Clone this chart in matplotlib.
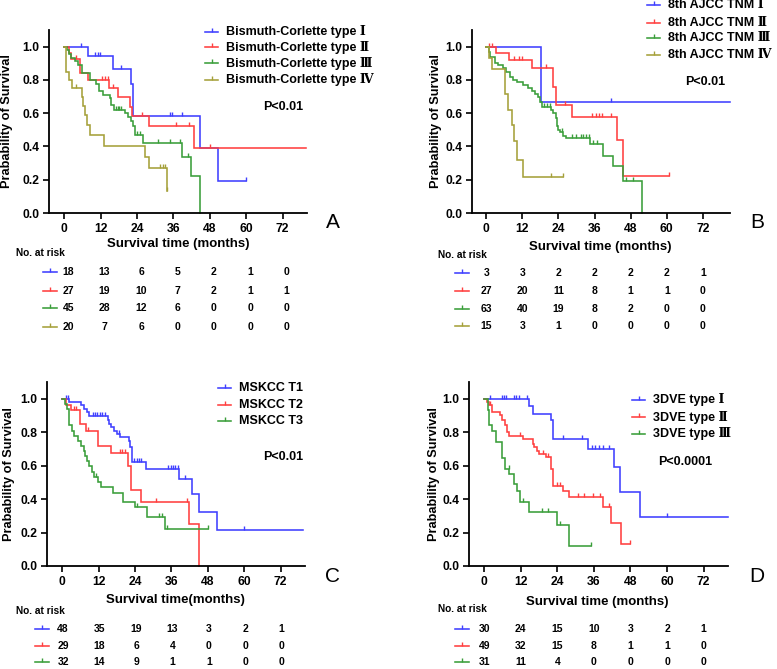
import numpy as np
import matplotlib
matplotlib.use("Agg")
import matplotlib.pyplot as plt
from matplotlib.lines import Line2D

plt.rcParams['font.family'] = ['Liberation Sans', 'Noto Sans CJK SC', 'DejaVu Sans']
LEG_FAMILY = ['Liberation Sans', 'DejaVu Serif', 'Noto Sans CJK SC']

W, H = 777, 669
BLUE, RED, GREEN, OLIVE = '#3f3fff', '#ff3f3f', '#3a9e3a', '#a5a03a'

# ---------------- data: panel A (Bismuth-Corlette) ----------------
A_labels = ['Bismuth-Corlette type Ⅰ', 'Bismuth-Corlette type Ⅱ',
            'Bismuth-Corlette type Ⅲ', 'Bismuth-Corlette type Ⅳ']
A1_t = [7.9, 16.1, 22.1, 22.8, 44.9, 50.8]
A1_s = [0.944, 0.864, 0.778, 0.583, 0.389, 0.194]
A1_c = [5.7, 10.0, 11.0, 11.8, 18.8, 35.0, 35.6, 38.9, 60.0]
A1_end = 60.0
A2_t = [1.6, 2.4, 5.2, 7.7, 14.8, 17.8, 21.6, 22.5, 27.8, 42.7]
A2_s = [0.963, 0.926, 0.844, 0.800, 0.753, 0.700, 0.640, 0.583, 0.520, 0.390]
A2_c = [4.0, 12.3, 13.4, 14.5, 16.1, 25.8, 36.9, 41.0, 47.9]
A2_end = 79.7
A3_t = [0.8, 1.6, 2.4, 3.5, 4.5, 6.0, 8.5, 10.6, 11.5, 12.8, 15.0, 15.5, 16.5,
        20.0, 21.0, 22.1, 22.7, 23.2, 26.0, 38.9, 41.9, 44.9]
A3_s = [0.978, 0.956, 0.933, 0.911, 0.889, 0.844, 0.800, 0.778, 0.733, 0.711, 0.689,
        0.650, 0.622, 0.600, 0.578, 0.556, 0.520, 0.470, 0.420, 0.336, 0.222, 0.0]
A3_c = [17.0, 17.6, 18.2, 18.8, 24.0, 25.0, 30.9, 34.7, 38.0, 40.8]
A3_end = 44.9
A4_t = [0.5, 0.6, 0.7, 1.5, 2.6, 5.9, 6.3, 7.0, 7.6, 8.4, 13.1, 26.7, 27.8, 34.0]
A4_s = [0.95, 0.90, 0.85, 0.80, 0.75, 0.70, 0.644, 0.589, 0.53, 0.47, 0.404,
        0.337, 0.27, 0.135]
A4_c = [4.0, 31.7, 32.5, 33.3, 34.0]
A4_end = 34.0
A_risk = [[18, 13, 6, 5, 2, 1, 0], [27, 19, 10, 7, 2, 1, 1],
          [45, 28, 12, 6, 0, 0, 0], [20, 7, 6, 0, 0, 0, 0]]

# ---------------- data: panel B (8th AJCC TNM) ----------------
B_labels = ['8th AJCC TNM Ⅰ', '8th AJCC TNM Ⅱ', '8th AJCC TNM Ⅲ', '8th AJCC TNM Ⅳ']
B1_t = [18.2]
B1_s = [0.667]
B1_c = [41.4]
B1_end = 81.0
B2_t = [3.3, 7.7, 15.1, 22.1, 23.2, 28.4, 43.6, 45.5]
B2_s = [0.96, 0.92, 0.87, 0.76, 0.65, 0.58, 0.44, 0.22]
B2_c = [1.1, 1.9, 9.3, 11.0, 12.0, 19.9, 26.2, 35.3, 36.4, 37.5, 38.6, 41.4, 60.7]
B2_end = 60.7
B3_t = [0.8, 1.3, 3.0, 4.1, 5.7, 6.6, 7.9, 9.0, 10.2, 12.1, 14.0, 15.1, 16.2, 17.3,
        17.9, 18.5, 21.7, 22.3, 23.1, 23.4, 23.9, 24.5, 25.6, 26.5, 34.4, 38.9,
        42.0, 45.3, 51.8]
B3_s = [0.968, 0.936, 0.904, 0.888, 0.870, 0.850, 0.816, 0.800, 0.785, 0.768, 0.750,
        0.734, 0.716, 0.700, 0.670, 0.640, 0.620, 0.600, 0.570, 0.520, 0.500, 0.484,
        0.460, 0.450, 0.415, 0.345, 0.280, 0.190, 0.0]
B3_c = [19.2, 20.3, 21.2, 25.1, 28.4, 30.0, 31.4, 32.2, 33.3, 34.2, 35.6, 36.7,
        46.4, 48.8]
B3_end = 51.8
B4_t = [1.0, 1.9, 6.3, 7.4, 8.5, 9.3, 10.2, 12.1]
B4_s = [0.933, 0.867, 0.714, 0.62, 0.53, 0.43, 0.32, 0.215]
B4_c = [21.4, 25.4]
B4_end = 25.4
B_risk = [[3, 3, 2, 2, 2, 2, 1], [27, 20, 11, 8, 1, 1, 0],
          [63, 40, 19, 8, 2, 0, 0], [15, 3, 1, 0, 0, 0, 0]]

# ---------------- data: panel C (MSKCC) ----------------
C_labels = ['MSKCC T1', 'MSKCC T2', 'MSKCC T3']
C1_t = [2.4, 6.2, 7.3, 8.2, 8.9, 15.0, 15.5, 16.0, 17.1, 18.2, 19.1, 22.0, 22.4,
        23.0, 27.7, 38.6, 42.8, 45.0, 51.0]
C1_s = [0.98, 0.96, 0.94, 0.92, 0.895, 0.87, 0.85, 0.83, 0.81, 0.79, 0.77, 0.75,
        0.71, 0.62, 0.58, 0.52, 0.43, 0.32, 0.215]
C1_c = [1.1, 1.9, 10.0, 10.8, 11.6, 12.4, 13.2, 14.0, 18.8, 23.8, 24.5, 25.2, 26.0,
        35.0, 35.7, 36.4, 37.2, 38.0, 40.6, 60.0]
C1_end = 79.5
C2_t = [1.3, 2.9, 6.0, 7.9, 11.9, 16.0, 21.8, 22.8, 25.9, 41.7, 45.2]
C2_s = [0.965, 0.93, 0.85, 0.81, 0.72, 0.675, 0.60, 0.455, 0.38, 0.25, 0.0]
C2_c = [3.8, 4.6, 8.6, 19.1, 19.8, 20.6, 31.0, 41.0]
C2_end = 45.2
C3_t = [1.0, 1.5, 2.1, 3.2, 3.8, 5.3, 6.2, 7.1, 7.6, 8.2, 8.9, 9.7, 10.6, 11.7, 12.8,
        16.9, 19.9, 23.9, 28.0, 34.0]
C3_s = [0.97, 0.94, 0.84, 0.81, 0.78, 0.75, 0.72, 0.69, 0.66, 0.63, 0.60, 0.56, 0.53,
        0.50, 0.47, 0.434, 0.384, 0.354, 0.294, 0.22]
C3_c = [11.1, 24.8, 31.9, 33.0, 34.6, 48.0]
C3_end = 48.0
C_risk = [[48, 35, 19, 13, 3, 2, 1], [29, 18, 6, 4, 0, 0, 0], [32, 14, 9, 1, 1, 0, 0]]

# ---------------- data: panel D (3DVE) ----------------
D_labels = ['3DVE type Ⅰ', '3DVE type Ⅱ', '3DVE type Ⅲ']
D1_t = [14.8, 15.9, 21.9, 22.7, 34.0, 42.7, 44.6, 51.0]
D1_s = [0.958, 0.91, 0.87, 0.76, 0.70, 0.59, 0.44, 0.29]
D1_c = [1.9, 5.7, 6.5, 7.3, 9.7, 10.5, 11.3, 13.9, 26.0, 32.0, 35.3, 36.4, 37.5,
        39.1, 40.8, 60.0]
D1_end = 80.0
D2_t = [1.0, 1.6, 2.7, 5.2, 5.9, 6.8, 7.6, 8.2, 12.8, 15.9, 16.4, 17.2, 18.1, 20.3,
        21.9, 22.7, 25.8, 27.8, 38.9, 41.6, 44.8]
D2_s = [0.98, 0.96, 0.92, 0.90, 0.87, 0.84, 0.80, 0.78, 0.76, 0.73, 0.71, 0.69, 0.67,
        0.65, 0.58, 0.48, 0.45, 0.41, 0.35, 0.26, 0.13]
D2_c = [2.0, 11.7, 19.2, 20.8, 23.8, 24.9, 30.9, 32.9, 35.8, 38.0, 40.8, 47.9]
D2_end = 47.9
D3_t = [1.2, 1.4, 1.5, 2.6, 3.8, 5.7, 6.8, 8.2, 9.8, 10.6, 11.7, 14.8, 24.0, 27.8]
D3_s = [0.935, 0.87, 0.84, 0.81, 0.74, 0.645, 0.58, 0.55, 0.49, 0.45, 0.38, 0.325,
        0.245, 0.12]
D3_c = [8.1, 12.8, 18.8, 20.8, 24.9, 35.0]
D3_end = 35.0
D_risk = [[30, 24, 15, 10, 3, 2, 1], [49, 32, 15, 8, 1, 1, 0], [31, 11, 4, 0, 0, 0, 0]]

x_ticks = [0, 12, 24, 36, 48, 60, 72]
y_ticks = [0.0, 0.2, 0.4, 0.6, 0.8, 1.0]

fig = plt.figure(figsize=(W / 100, H / 100), dpi=100)

LW = 1.15
MS = 3.2


def fx(px):
    return px / W


def fy(py):
    return 1 - py / H


def km(ax, t, s, c, end, color):
    xs = [0.0] + list(t) + [end]
    ys = [1.0] + list(s) + [s[-1] if len(s) else 1.0]
    ax.step(xs, ys, where='post', color=color, lw=LW, solid_joinstyle='miter', clip_on=False)
    tt = np.array(t)
    ss = np.array([1.0] + list(s))
    cy = [ss[np.searchsorted(tt, ci, side='right')] for ci in c]
    ax.plot(c, cy, ls='none', marker=2, ms=MS, mew=1.0, color=color, clip_on=False)


def panel(box, xlim, curves, colors, labels, ylab_x, xlabel, xlabel_xy, letter, letter_xy,
          pval, pval_xy, leg_x, leg_rows, risk, risk_label_xy, risk_marker_x, risk_rows, risk_dx):
    l, t, r, b = box
    ax = fig.add_axes([fx(l), fy(b), fx(r - l), (b - t) / H])
    for (tt, ss, cc, ee), col in zip(curves, colors):
        km(ax, tt, ss, cc, ee, col)
    ax.set_xlim(*xlim)
    ax.set_ylim(0, 1.1)
    ax.set_xticks(x_ticks)
    ax.set_yticks(y_ticks)
    ax.set_yticklabels([f'{v:.1f}' for v in y_ticks])
    for sp in ['top', 'right']:
        ax.spines[sp].set_visible(False)
    for sp in ['left', 'bottom']:
        ax.spines[sp].set_linewidth(1.3)
    ax.tick_params(direction='out', length=4, width=1.2, labelsize=8.7, pad=3)
    for lab in ax.get_xticklabels() + ax.get_yticklabels():
        lab.set_fontweight('bold')
    ax.set_ylabel('Prabability of Survival', fontsize=9.2, fontweight='bold')
    ax.yaxis.set_label_coords(ylab_x, 0.5)
    fig.text(fx(xlabel_xy[0]), fy(xlabel_xy[1]), xlabel, fontsize=9.5, fontweight='bold',
             ha='center', va='center')
    fig.text(fx(letter_xy[0]), fy(letter_xy[1]), letter, fontsize=15, ha='center', va='center')
    fig.text(fx(pval_xy[0]), fy(pval_xy[1]), pval, fontsize=9, fontweight='bold',
             ha='left', va='center')
    # legend
    for lab, col, yy in zip(labels, colors, leg_rows):
        fig.add_artist(Line2D([fx(leg_x), fx(leg_x + 13)], [fy(yy), fy(yy)], color=col, lw=LW))
        fig.add_artist(Line2D([fx(leg_x + 6.5)], [fy(yy)], ls='none', marker=2, ms=MS,
                              mew=1.0, color=col))
        fig.text(fx(leg_x + 21), fy(yy), lab, fontsize=9, fontweight='bold',
                 ha='left', va='center', family=LEG_FAMILY)
    # risk table
    fig.text(fx(risk_label_xy[0]), fy(risk_label_xy[1]), 'No. at risk', fontsize=7.3,
             fontweight='bold', ha='left', va='center')
    for row, col, yy in zip(risk, colors, risk_rows):
        fig.add_artist(Line2D([fx(risk_marker_x - 7), fx(risk_marker_x + 7)], [fy(yy), fy(yy)],
                              color=col, lw=LW))
        fig.add_artist(Line2D([fx(risk_marker_x)], [fy(yy)], ls='none', marker=2, ms=MS,
                              mew=1.0, color=col))
        for xv, n in zip(x_ticks, row):
            px = ax.transData.transform((xv, 0))[0] / fig.dpi * 100
            fig.text(fx(px + risk_dx), fy(yy), str(n), fontsize=7.5, fontweight='bold',
                     ha='center', va='center')
    return ax


A_curves = [(A1_t, A1_s, A1_c, A1_end), (A2_t, A2_s, A2_c, A2_end),
            (A3_t, A3_s, A3_c, A3_end), (A4_t, A4_s, A4_c, A4_end)]
B_curves = [(B1_t, B1_s, B1_c, B1_end), (B2_t, B2_s, B2_c, B2_end),
            (B3_t, B3_s, B3_c, B3_end), (B4_t, B4_s, B4_c, B4_end)]
C_curves = [(C1_t, C1_s, C1_c, C1_end), (C2_t, C2_s, C2_c, C2_end),
            (C3_t, C3_s, C3_c, C3_end)]
D_curves = [(D1_t, D1_s, D1_c, D1_end), (D2_t, D2_s, D2_c, D2_end),
            (D3_t, D3_s, D3_c, D3_end)]

panel((49, 30, 307, 213), (-5, 80), A_curves, [BLUE, RED, GREEN, OLIVE], A_labels,
      -0.14, 'Survival time (months)', (178, 244), 'A', (333, 222),
      'P<0.01', (263, 107), 205, [32, 47, 63, 80],
      A_risk, (16, 253), 50, [272, 291, 308, 327], 4)
panel((472, 30, 730, 213), (-4.7, 81), B_curves, [BLUE, RED, GREEN, OLIVE], B_labels,
      -0.116, 'Survival time (months)', (600, 247), 'B', (757, 222),
      'P<0.01', (685, 82), 647, [5, 23, 38, 55],
      B_risk, (438, 255), 462, [273, 291, 309, 326], 0)
panel((47, 382, 305, 566), (-5, 80), C_curves, [BLUE, RED, GREEN], C_labels,
      -0.124, 'Survival time(months)', (175, 600), 'C', (332, 577),
      'P<0.01', (263, 457), 218, [388, 405, 421],
      C_risk, (16, 611), 42, [629, 646, 662], 1)
panel((469, 382, 728, 566), (-5, 80), D_curves, [BLUE, RED, GREEN], D_labels,
      -0.112, 'Survival time (months)', (597, 602), 'D', (757, 577),
      'P<0.0001', (658, 462), 632, [400, 417, 434],
      D_risk, (438, 609), 462, [629, 646, 662], 0)

fig.savefig('out.png', dpi=100)
